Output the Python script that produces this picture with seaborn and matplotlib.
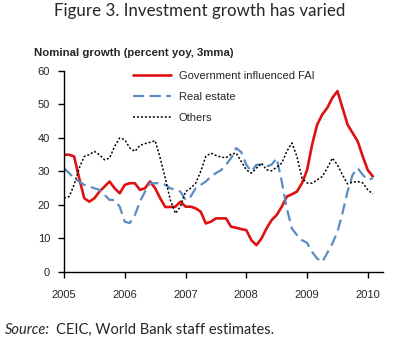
import numpy as np
import pandas as pd
import matplotlib
matplotlib.use('Agg')
import matplotlib.pyplot as plt
import seaborn as sns

# monthly values, Jan 2005 - Feb 2010 (percent yoy, 3mma)
months = pd.date_range('2005-01-01', periods=62, freq='MS')

gov_fai = [35, 35, 34.5, 28, 22, 21, 22, 24, 25.5, 27, 25, 23.5,
           26, 26.5, 26.5, 24.5, 25, 27, 25, 22, 19.4, 19.4, 19.5, 21,
           19.5, 19.5, 19, 18, 14.5, 15, 16, 16, 16, 13.5, 13.2, 12.8,
           12.5, 9.5, 8, 10, 13, 15.5, 17, 19.5, 22.5, 23.2, 24, 26.5,
           30.4, 38, 44, 47, 49, 52, 54, 49, 44, 41.5, 39, 34.5,
           30.4, 28.5]

real_estate = [31, 29.5, 28, 27, 26, 25.5, 25, 24.5, 23, 21.5, 21.5, 19.5,
               15, 14.6, 17, 21, 24, 26.5, 26.5, 26.5, 26, 25, 24.5, 24,
               21.5, 22.5, 25, 26, 27, 28.5, 29.5, 30.4, 32, 34, 37, 35.8,
               32, 30, 32, 32, 31.5, 32, 34, 27, 19, 13, 11, 9.5,
               8.7, 6, 4, 3, 5.7, 8.5, 12, 17.6, 24, 29, 31, 29,
               27.5, 28]

others = [22, 22.5, 26, 31, 34.5, 35, 36, 35, 33.5, 34, 37.5, 40,
          39.5, 37, 36, 37.8, 38.3, 38.7, 39.2, 34, 28, 21.5, 17.5, 19.5,
          24, 25, 26.5, 30, 34.5, 35.5, 34.8, 34.3, 34.1, 35.2, 35.5, 33,
          30.5, 29.5, 31, 32.5, 30.5, 30.2, 31.3, 32.5, 36, 38.5, 34.5, 28,
          26.6, 26.5, 27.5, 28.5, 31, 34, 32, 29, 26.3, 26.8, 27, 26.6,
          24.5, 23.3]

year_ticks = [2005, 2006, 2007, 2008, 2009, 2010]

# fractional year for x axis
x = months.year + (months.month - 1) / 12.0

df = pd.DataFrame({'year': x, 'gov': gov_fai, 're': real_estate, 'oth': others})

sns.set_style('white')
plt.rcParams['font.family'] = ['Liberation Sans', 'DejaVu Sans']

fig = plt.figure(figsize=(4.0, 3.53), dpi=100)
ax = fig.add_axes([0.16, 0.2295, 0.7975, 0.5694])

sns.lineplot(data=df, x='year', y='gov', ax=ax, color='#dd1111', lw=1.9,
             label='Government influenced FAI')
sns.lineplot(data=df, x='year', y='re', ax=ax, color='#5b8cc2', lw=1.6,
             dashes=(5, 2.5), label='Real estate')
sns.lineplot(data=df, x='year', y='oth', ax=ax, color='black', lw=1.1,
             dashes=(1.3, 1.3), label='Others')

ax.set_xlim(2005, 2010.25)
ax.set_ylim(0, 60)
ax.set_xticks(year_ticks)
ax.set_xticklabels([str(y) for y in year_ticks])
ax.set_yticks(range(0, 61, 10))
ax.set_xlabel('')
ax.set_ylabel('')
for s in ['top', 'right']:
    ax.spines[s].set_visible(False)
for s in ['left', 'bottom']:
    ax.spines[s].set_color('black')
    ax.spines[s].set_linewidth(1.0)
ax.tick_params(axis='both', which='major', direction='out', length=4,
               width=1, color='black', labelsize=8, left=True, bottom=True)
ax.tick_params(axis='x', pad=9)
ax.tick_params(axis='y', pad=6)

leg = ax.legend(loc='upper left', bbox_to_anchor=(0.185, 1.05), frameon=False,
                fontsize=8, handlelength=3.4, handletextpad=0.7,
                labelspacing=1.0)

fig.text(0.5, 0.97, 'Figure 3. Investment growth has varied', ha='center',
         va='center', fontsize=12.2, family=['Lato', 'DejaVu Sans'])
fig.text(0.085, 0.85, 'Nominal growth (percent yoy, 3mma)', ha='left',
         va='center', fontsize=8.2, fontweight='bold')
fig.text(0.012, 0.065, 'Source:', ha='left', va='center', fontsize=10.5,
         style='italic', family=['Lato', 'DejaVu Sans'])
fig.text(0.14, 0.065, 'CEIC, World Bank staff estimates.', ha='left',
         va='center', fontsize=10.5, family=['Lato', 'DejaVu Sans'])

fig.savefig('out.png', dpi=100)
